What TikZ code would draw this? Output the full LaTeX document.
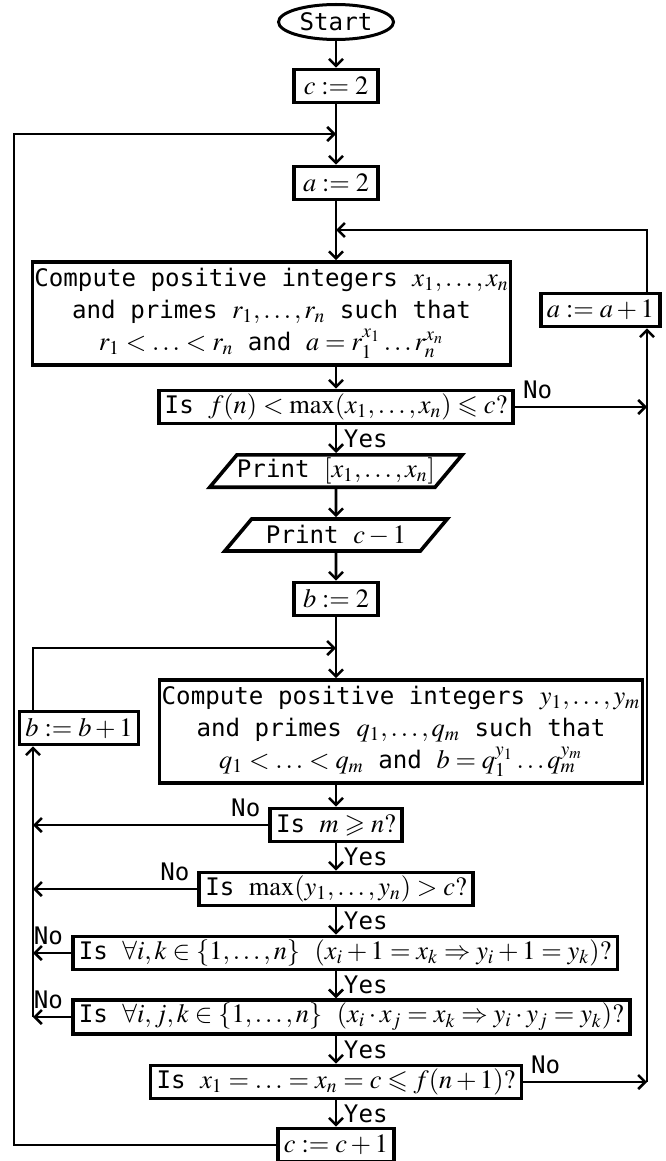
\documentclass[tikz,border=0pt]{standalone}
\usepackage{amssymb}
\usepackage{mathptmx}
\usepackage[no-math]{fontspec}
\setmonofont[Scale=0.915]{DejaVu Sans Mono}
\usetikzlibrary{shapes.geometric,arrows.meta}

\begin{document}
\begin{tikzpicture}[x = {(0.5pt,0)},
                    y = {(0,-0.5pt)},
                    font = \fontsize{13.2}{16}\selectfont\ttfamily,
                    >= {Straight Barb[length=3.5pt,width=7pt]},
                    line width = 1.3pt]

  % STYLES
  \tikzset{flowbox/.style = {draw, line width=1.8pt, inner xsep=3pt, inner ysep=1.5pt, minimum height=16.5pt},
           setbox/.style  = {flowbox, minimum width=42pt},
           askbox/.style  = {flowbox},
           workbox/.style = {flowbox, align=center, inner xsep=1pt, minimum width=238.5pt, minimum height=51.5pt},
           iobox/.style   = {draw, line width=1.8pt, trapezium, trapezium left angle=50,
                             trapezium right angle=130, inner xsep=0pt, inner ysep=1.5pt,
                             minimum height=16pt},
           endbox/.style  = {draw, line width=1.5pt, ellipse, inner sep=0pt,
                             minimum width=57.5pt, minimum height=17.5pt}}

  \useasboundingbox (0,0) rectangle (665,1161);

  % LOOP LINES
  \coordinate (lpo) at (14,0);
  \coordinate (lpi) at (33,0);
  \coordinate (lpr) at (647,0);
  \coordinate (ja) at (336,134);
  \coordinate (jx) at (336,230);
  \coordinate (jb) at (336,648);

  % NODES
  \node[endbox] (start) at (336,22) {Start};
  \node[setbox] (c2) at (336,86) {$c:=2$};
  \node[setbox] (a2) at (336,183) {$a:=2$};
  \node[workbox] (comp1) at (271.5,313.5)
    {Compute positive integers $x_1,\ldots,x_n$\\
     and primes $r_1,\ldots,r_n$ such that\\
     $r_1<\ldots<r_n$ and $a=r_1^{x_1}\ldots r_n^{x_n}$};
  \node[setbox] (ainc) at (600.5,310) {$a:=a+1$};
  \node[askbox] (isf) at (336,407) {Is $f(n)<\max(x_1,\ldots,x_n)\leqslant c?$};
  \node[iobox] (printx) at (336,471) {Print $[x_1,\ldots,x_n]$};
  \node[iobox] (printc) at (336,535) {Print $c-1$};
  \node[setbox] (b2) at (336,599) {$b:=2$};
  \node[workbox] (comp2) at (401,731.5)
    {Compute positive integers $y_1,\ldots,y_m$\\
     and primes $q_1,\ldots,q_m$ such that\\
     $q_1<\ldots<q_m$ and $b=q_1^{y_1}\ldots q_m^{y_m}$};
  \node[setbox] (binc) at (79,728) {$b:=b+1$};
  \node[askbox] (ism) at (336,825) {Is $m\geqslant n?$};
  \node[askbox] (ismax) at (336,889) {Is $\max(y_1,\ldots,y_n)>c?$};
  \node[askbox, anchor=west] (isik) at (71,953)
    {Is $\forall i,k\in\{1,\ldots,n\}\ (x_i+1=x_k\Rightarrow y_i+1=y_k)?$};
  \node[askbox, anchor=west] (isijk) at (71,1017)
    {Is $\forall i,j,k\in\{1,\ldots,n\}\ (x_i\cdot x_j=x_k\Rightarrow y_i\cdot y_j=y_k)?$};
  \node[askbox] (isx) at (336,1082) {Is $x_1=\ldots=x_n=c\leqslant f(n+1)?$};
  \node[setbox] (cinc) at (336,1145) {$c:=c+1$};

  % MAIN LINE
  \draw[->] (start) -- (c2);
  \draw[->] (c2) -- (a2);
  \draw[->] (a2.south) -- (a2.south |- comp1.north);
  \draw[->] (isf.north |- comp1.south) -- (isf);
  \draw[->] (isf) -- (printx) node[midway, right] {Yes};
  \draw[->] (printx) -- (printc);
  \draw[->] (printc) -- (b2);
  \draw[->] (b2.south) -- (b2.south |- comp2.north);
  \draw[->] (ism.north |- comp2.south) -- (ism);
  \draw[->] (ism) -- (ismax) node[midway, right] {Yes};
  \draw[->] (ismax.south) -- (ismax.south |- isik.north) node[midway, right] {Yes};
  \draw[->] (ismax.south |- isik.south) -- (ismax.south |- isijk.north) node[midway, right] {Yes};
  \draw[->] (isx.north |- isijk.south) -- (isx) node[midway, right] {Yes};
  \draw[->] (isx) -- (cinc) node[midway, right] {Yes};

  % RIGHT LOOP
  \draw[->] (isf.east) -- (isf.east -| lpr) node[pos=0, above right] {No};
  \draw[->] (isx.east) -- (isx.east -| lpr) node[pos=0, above right] {No};
  \draw[->] (isx.east -| lpr) -- (ainc.south -| lpr);
  \draw[->] (ainc.north -| lpr) |- (jx);

  % INNER LEFT LOOP
  \draw[->] (ism.west) -- (ism.west -| lpi) node[pos=0, above left] {No};
  \draw[->] (ismax.west) -- (ismax.west -| lpi) node[pos=0, above left] {No};
  \draw[->] (isik.west) -- (isik.west -| lpi) node[pos=0, above left] {No};
  \draw[->] (isijk.west) -- (isijk.west -| lpi) node[pos=0, above left] {No};
  \draw[->] (isijk.west -| lpi) -- (binc.south -| lpi);
  \draw[->] (binc.north -| lpi) |- (jb);

  % OUTER LEFT LOOP
  \draw[->] (cinc.west) -- (cinc.west -| lpo) |- (ja);

\end{tikzpicture}
\end{document}
